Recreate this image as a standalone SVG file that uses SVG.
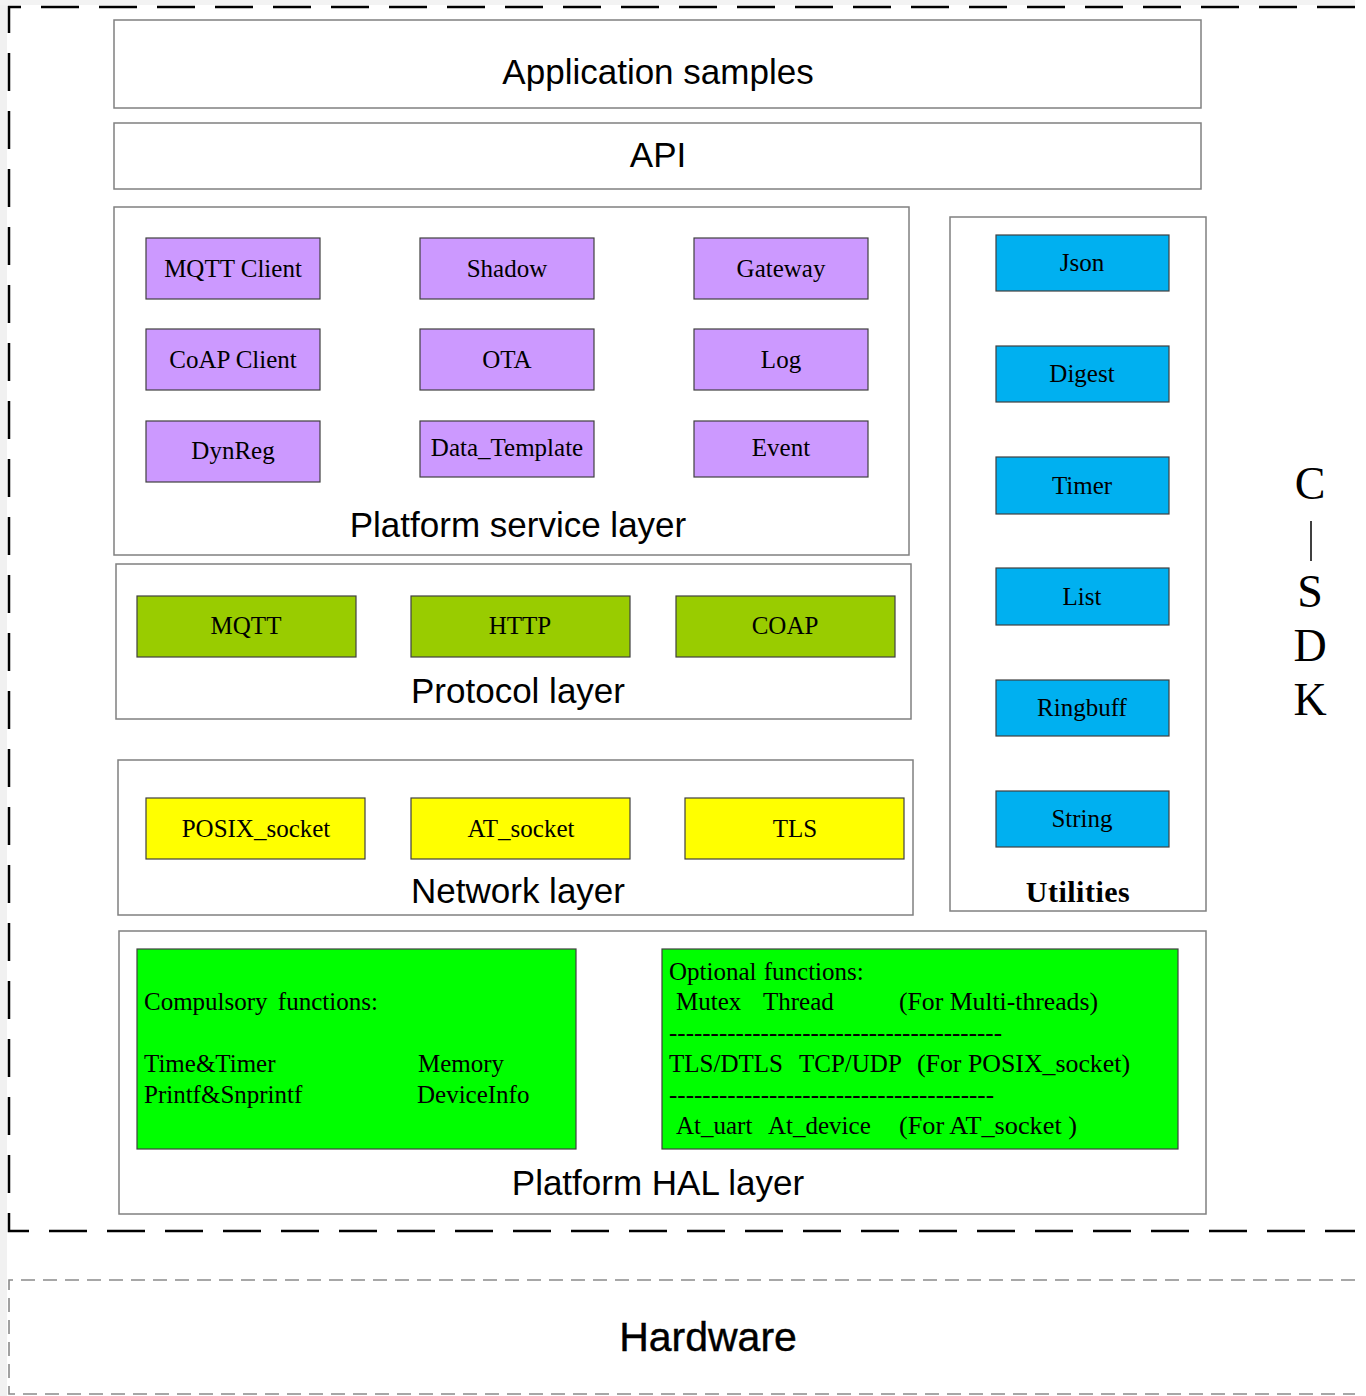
<svg xmlns="http://www.w3.org/2000/svg" width="1366" height="1396" viewBox="0 0 1366 1396">
<style>
.layer{fill:#fff;stroke:#808080;stroke-width:1.5}
.box{stroke:#404040;stroke-width:1.2}
.pur{fill:#cc99ff}
.grn{fill:#99cc00}
.yel{fill:#ffff00}
.blu{fill:#00b0f0}
.hal{fill:#00ff00}
.sans{font-family:"Liberation Sans",Arial,sans-serif;fill:#000}
.serif{font-family:"Liberation Serif","Times New Roman",serif;fill:#000}
.lbl{font-size:35px;text-anchor:middle}
.bl{font-size:25px;text-anchor:middle}
.ht{font-size:25px}
</style>
<rect x="0" y="0" width="1366" height="1396" fill="#fff"/>
<rect x="0" y="0" width="7" height="1396" fill="#f1f1f1"/>
<rect x="0" y="0" width="1355" height="5" fill="#f3f3f3"/>

<g id="sdk-boundary">
<path d="M1355,7 H9 V1231 H1355" fill="none" stroke="#000" stroke-width="2.5" stroke-dasharray="38 20"/>
</g>

<g id="app-samples">
<rect class="layer" x="114" y="20" width="1087" height="88"/>
<text class="sans lbl" x="658" y="84">Application samples</text>
</g>
<g id="api">
<rect class="layer" x="114" y="123" width="1087" height="66"/>
<text class="sans lbl" x="658" y="167">API</text>
</g>

<g id="platform-service-layer">
<rect class="layer" x="114" y="207" width="795" height="348"/>
<text class="sans lbl" x="518" y="537">Platform service layer</text>
</g>
<g id="mqtt-client"><rect class="box pur" x="146" y="238" width="174" height="61"/><text class="serif bl" x="233" y="277">MQTT Client</text></g>
<g id="shadow"><rect class="box pur" x="420" y="238" width="174" height="61"/><text class="serif bl" x="507" y="277">Shadow</text></g>
<g id="gateway"><rect class="box pur" x="694" y="238" width="174" height="61"/><text class="serif bl" x="781" y="277">Gateway</text></g>
<g id="coap-client"><rect class="box pur" x="146" y="329" width="174" height="61"/><text class="serif bl" x="233" y="368">CoAP Client</text></g>
<g id="ota"><rect class="box pur" x="420" y="329" width="174" height="61"/><text class="serif bl" x="507" y="368">OTA</text></g>
<g id="log"><rect class="box pur" x="694" y="329" width="174" height="61"/><text class="serif bl" x="781" y="368">Log</text></g>
<g id="dynreg"><rect class="box pur" x="146" y="421" width="174" height="61"/><text class="serif bl" x="233" y="459">DynReg</text></g>
<g id="data-template"><rect class="box pur" x="420" y="421" width="174" height="56"/><text class="serif bl" x="507" y="456">Data_Template</text></g>
<g id="event"><rect class="box pur" x="694" y="421" width="174" height="56"/><text class="serif bl" x="781" y="456">Event</text></g>

<g id="protocol-layer">
<rect class="layer" x="116" y="564" width="795" height="155"/>
<text class="sans lbl" x="518" y="703">Protocol layer</text>
</g>
<g id="mqtt"><rect class="box grn" x="137" y="596" width="219" height="61"/><text class="serif bl" x="246" y="634">MQTT</text></g>
<g id="http"><rect class="box grn" x="411" y="596" width="219" height="61"/><text class="serif bl" x="520" y="634">HTTP</text></g>
<g id="coap"><rect class="box grn" x="676" y="596" width="219" height="61"/><text class="serif bl" x="785" y="634">COAP</text></g>

<g id="network-layer">
<rect class="layer" x="118" y="760" width="795" height="155"/>
<text class="sans lbl" x="518" y="903">Network layer</text>
</g>
<g id="posix-socket"><rect class="box yel" x="146" y="798" width="219" height="61"/><text class="serif bl" x="256" y="837">POSIX_socket</text></g>
<g id="at-socket"><rect class="box yel" x="411" y="798" width="219" height="61"/><text class="serif bl" x="521" y="837">AT_socket</text></g>
<g id="tls"><rect class="box yel" x="685" y="798" width="219" height="61"/><text class="serif bl" x="795" y="837">TLS</text></g>

<g id="utilities">
<rect class="layer" x="950" y="217" width="256" height="694"/>
<text class="serif" x="1078" y="902" font-size="30" font-weight="bold" text-anchor="middle" letter-spacing="0.5">Utilities</text>
</g>
<g id="json"><rect class="box blu" x="996" y="235" width="173" height="56"/><text class="serif bl" x="1082" y="271">Json</text></g>
<g id="digest"><rect class="box blu" x="996" y="346" width="173" height="56"/><text class="serif bl" x="1082" y="382">Digest</text></g>
<g id="timer"><rect class="box blu" x="996" y="457" width="173" height="57"/><text class="serif bl" x="1082" y="494">Timer</text></g>
<g id="list"><rect class="box blu" x="996" y="568" width="173" height="57"/><text class="serif bl" x="1082" y="605">List</text></g>
<g id="ringbuff"><rect class="box blu" x="996" y="680" width="173" height="56"/><text class="serif bl" x="1082" y="716">Ringbuff</text></g>
<g id="string"><rect class="box blu" x="996" y="791" width="173" height="56"/><text class="serif bl" x="1082" y="827">String</text></g>

<g id="platform-hal-layer">
<rect class="layer" x="119" y="931" width="1087" height="283"/>
<text class="sans lbl" x="658" y="1195">Platform HAL layer</text>
</g>
<g id="compulsory">
<rect class="box hal" x="137" y="949" width="439" height="200"/>
<text class="serif ht" x="144" y="1010" word-spacing="4">Compulsory functions:</text>
<text class="serif ht" x="144" y="1072">Time&amp;Timer</text>
<text class="serif ht" x="418" y="1072">Memory</text>
<text class="serif ht" x="144" y="1103">Printf&amp;Snprintf</text>
<text class="serif ht" x="417" y="1103">DeviceInfo</text>
</g>
<g id="optional">
<rect class="box hal" x="662" y="949" width="516" height="200"/>
<text class="serif ht" x="669" y="980" word-spacing="1">Optional functions:</text>
<text class="serif ht" x="676" y="1010">Mutex</text>
<text class="serif ht" x="763" y="1010">Thread</text>
<text class="serif ht" x="899" y="1010" textLength="199" lengthAdjust="spacingAndGlyphs">(For Multi-threads)</text>
<text class="serif ht" x="669" y="1041" textLength="333" lengthAdjust="spacingAndGlyphs">----------------------------------------</text>
<text class="serif ht" x="669" y="1072">TLS/DTLS</text>
<text class="serif ht" x="799" y="1072">TCP/UDP</text>
<text class="serif ht" x="917" y="1072" textLength="213" lengthAdjust="spacingAndGlyphs">(For POSIX_socket)</text>
<text class="serif ht" x="669" y="1103" textLength="325" lengthAdjust="spacingAndGlyphs">---------------------------------------</text>
<text class="serif ht" x="676" y="1134">At_uart</text>
<text class="serif ht" x="768" y="1134">At_device</text>
<text class="serif ht" x="899" y="1134" textLength="178" lengthAdjust="spacingAndGlyphs">(For AT_socket )</text>
</g>

<g id="csdk-label">
<text class="serif" x="1310" y="499" font-size="46" text-anchor="middle">C</text>
<line x1="1311" y1="521" x2="1311" y2="561" stroke="#000" stroke-width="1.5"/>
<text class="serif" x="1310" y="607" font-size="46" text-anchor="middle">S</text>
<text class="serif" x="1310" y="661" font-size="46" text-anchor="middle">D</text>
<text class="serif" x="1310" y="715" font-size="46" text-anchor="middle">K</text>
</g>

<g id="hardware">
<path d="M1355,1280 H9 V1394 H1355" fill="none" stroke="#8a8a8a" stroke-width="1.6" stroke-dasharray="14 8"/>
<text class="sans" x="708" y="1351" font-size="41" text-anchor="middle" stroke="#000" stroke-width="0.4">Hardware</text>
</g>
</svg>
